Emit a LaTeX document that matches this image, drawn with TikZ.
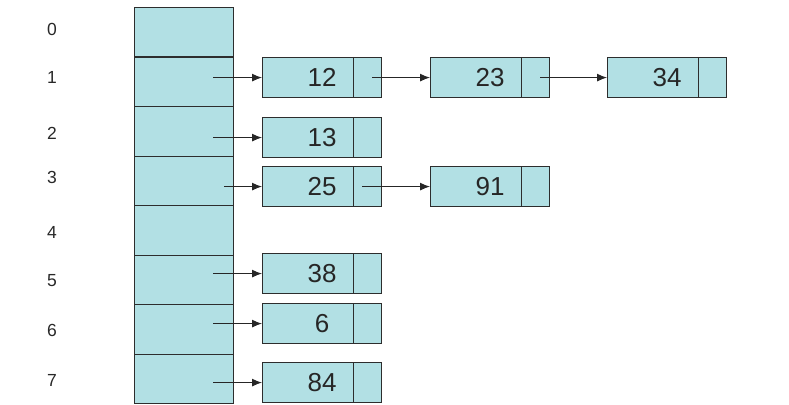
\documentclass[tikz,border=0pt]{standalone}
\usepackage{fontspec}
\setmainfont{Liberation Sans}
\usetikzlibrary{arrows.meta,calc}
\definecolor{cellfill}{RGB}{178,224,228}
\definecolor{linec}{RGB}{45,45,45}
\definecolor{labc}{RGB}{40,40,40}
\begin{document}
\begin{tikzpicture}[x=1pt,y=-1pt,
  slot/.style={draw=linec,line width=1.3pt,fill=cellfill,minimum width=99pt,minimum height=49.5pt,inner sep=0pt,anchor=north west},
  cellbox/.style={draw=linec,line width=1.2pt,fill=cellfill,minimum width=119pt,minimum height=40pt,inner sep=0pt,anchor=north west,font=\fontsize{26}{26}\selectfont,text=black!85},
  idx/.style={font=\fontsize{17.5}{17.5}\selectfont,text=labc},
  arr/.style={draw=black!85,line width=1pt,-{Latex[length=10pt,width=8pt]}}]
\useasboundingbox (0,0) rectangle (789,404);
% table
\foreach \i/\y in {0/7,1/56.5,2/106,3/155.5,4/205,5/254.5,6/304,7/353.5}{
  \node[slot] (t\i) at (134,\y) {};
}
% index labels
\node[idx] (l0) at (52,29) {0};
\node[idx] (l1) at (52,77) {1};
\node[idx] (l2) at (52,133) {2};
\node[idx] (l3) at (52,177) {3};
\node[idx] (l4) at (52,232) {4};
\node[idx] (l5) at (52,281) {5};
\node[idx] (l6) at (52,330) {6};
\node[idx] (l7) at (52,380) {7};
% list nodes
\node[cellbox] (n12) at (262,57) {12};
\node[cellbox] (n23) at (430,57) {23};
\node[cellbox] (n34) at (607,57) {34};
\node[cellbox] (n13) at (262,117) {13};
\node[cellbox] (n25) at (262,166) {25};
\node[cellbox] (n91) at (430,166) {91};
\node[cellbox] (n38) at (262,253) {38};
\node[cellbox] (n6) at (262,303) {6};
\node[cellbox] (n84) at (262,362) {84};
\foreach \n in {n12,n23,n34,n13,n25,n91,n38,n6,n84}{
  \draw[linec,line width=1.2pt] ([xshift=-29pt]\n.north east) -- ([xshift=-29pt]\n.south east);
}
% arrows from table
\draw[arr] ([xshift=-21pt]t1.east |- n12.west) -- (n12.west);
\draw[arr] ([xshift=-21pt]t2.east |- n13.west) -- (n13.west);
\draw[arr] ([xshift=-10pt]t3.east |- n25.west) -- (n25.west);
\draw[arr] ([xshift=-21pt]t5.east |- n38.west) -- (n38.west);
\draw[arr] ([xshift=-21pt]t6.east |- n6.west) -- (n6.west);
\draw[arr] ([xshift=-21pt]t7.east |- n84.west) -- (n84.west);
% chain arrows
\draw[arr] ([xshift=-10pt]n12.east) -- (n23.west);
\draw[arr] ([xshift=-10pt]n23.east) -- (n34.west);
\draw[arr] ([xshift=-20pt]n25.east) -- (n91.west);
\end{tikzpicture}
\end{document}
